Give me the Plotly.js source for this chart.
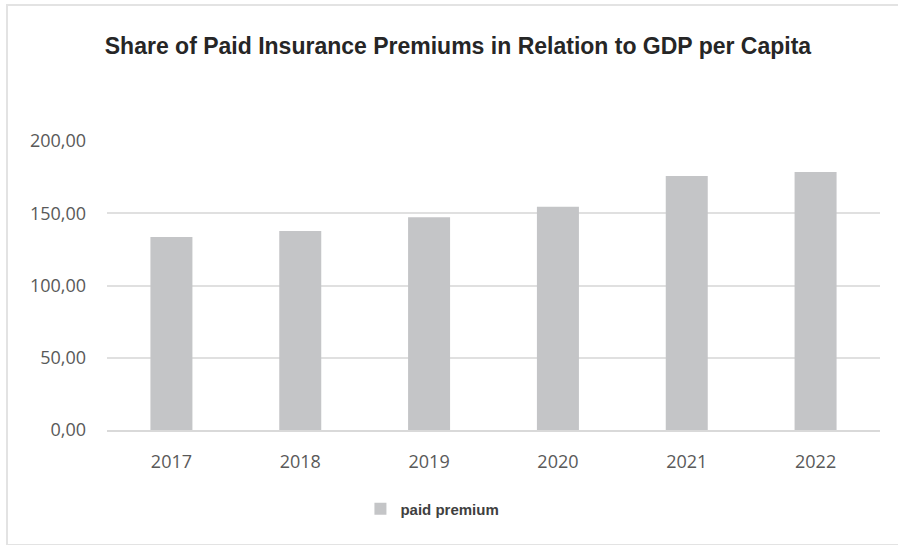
<!DOCTYPE html>
<html>
<head>
<meta charset="utf-8">
<script src="https://cdn.plot.ly/plotly-3.0.1.min.js"></script>
<style>
html,body{margin:0;padding:0;background:#fff;}
#chart{width:898px;height:545px;position:absolute;left:0;top:0;}
#frame{position:absolute;left:6px;top:4px;width:900px;height:538px;border-top:2px solid #e3e3e3;border-left:2px solid #e3e3e3;border-bottom:2px solid #e3e3e3;pointer-events:none;}
</style>
</head>
<body>
<div id="chart"></div>
<div id="frame"></div>
<script>
const years = ['2017','2018','2019','2020','2021','2022'];
const paidPremium = [133.5, 137.8, 147.2, 154.5, 175.8, 178.5];
const yTickVals = [0, 50, 100, 150, 200];
const yTickText = ['0,00', '50,00', '100,00', '150,00', '200,00'];

const trace = {
  type: 'bar',
  x: years,
  y: paidPremium,
  name: 'paid premium',
  marker: {color: '#c4c5c7'},
  hoverinfo: 'x+y'
};

const layout = {
  width: 898,
  height: 545,
  margin: {l: 107, r: 18, t: 141, b: 115},
  paper_bgcolor: '#ffffff',
  plot_bgcolor: '#ffffff',
  title: {
    text: '<b>Share of Paid Insurance Premiums in Relation to GDP per Capita</b>',
    font: {family: 'Liberation Sans, Arial, sans-serif', size: 23, color: '#262626'},
    x: 0.51, xanchor: 'center',
    y: 0.915, yanchor: 'middle'
  },
  bargap: 0.674,
  xaxis: {
    type: 'category',
    tickfont: {family: 'Open Sans, sans-serif', size: 18, color: '#595959'},
    showgrid: false,
    showline: true,
    linecolor: '#d9d9d9',
    linewidth: 2,
    ticks: '',
    ticklen: 0,
    ticklabelstandoff: 14
  },
  yaxis: {
    range: [0, 200],
    tickvals: yTickVals,
    ticktext: yTickText,
    tickfont: {family: 'Open Sans, sans-serif', size: 18, color: '#595959'},
    showgrid: true,
    gridcolor: '#e0e0e0',
    gridwidth: 2,
    zeroline: false,
    showline: false,
    ticks: '',
    ticklabelstandoff: 20
  },
  showlegend: true,
  legend: {
    orientation: 'h',
    x: 0.421, xanchor: 'center',
    y: -0.273, yanchor: 'middle',
    font: {family: 'Liberation Sans, Arial, sans-serif', size: 15, color: '#404040', weight: 'bold'},
    itemwidth: 30
  }
};

Plotly.newPlot('chart', [trace], layout, {displayModeBar: false, staticPlot: true});
</script>
</body>
</html>
